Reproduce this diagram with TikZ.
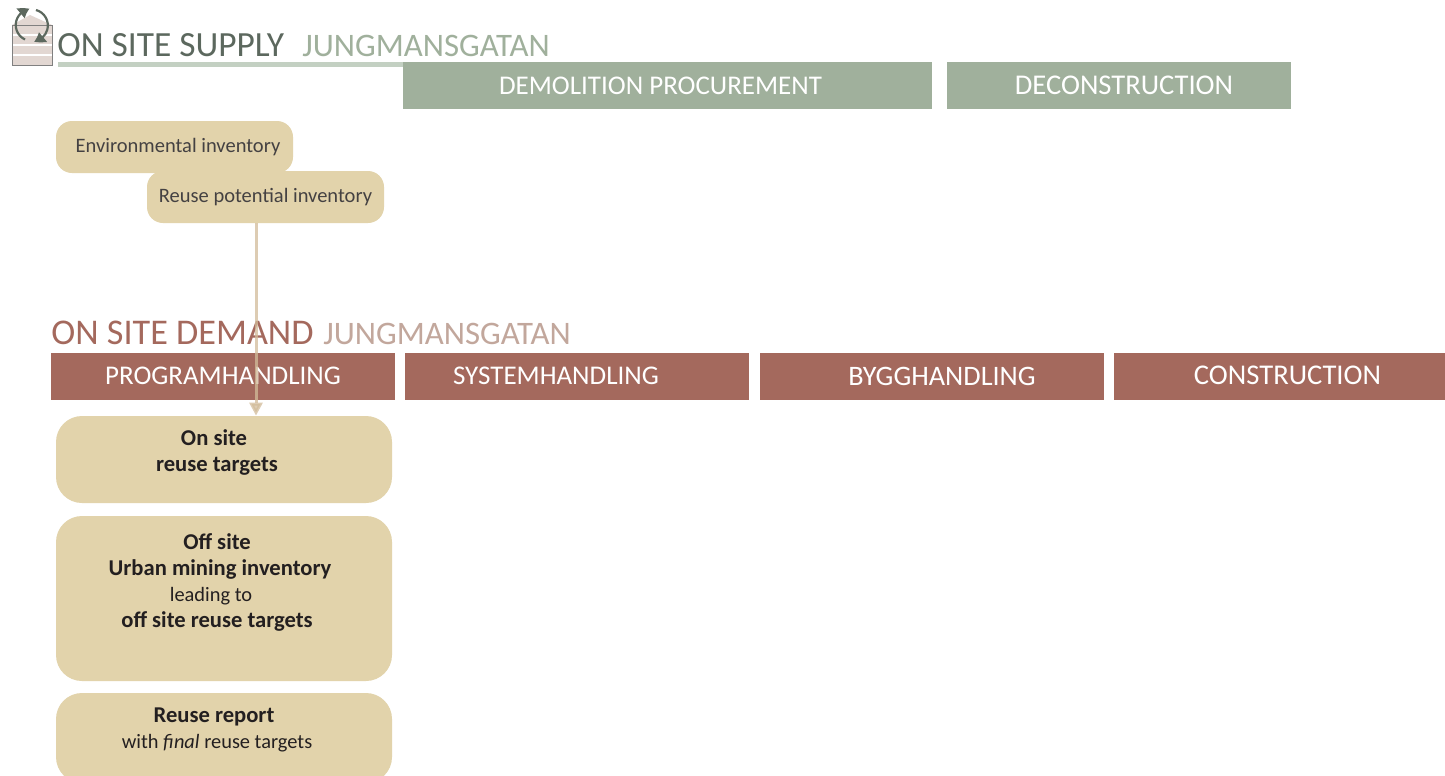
\documentclass[tikz,border=0pt]{standalone}
\usepackage{fontspec}
\setmainfont{Carlito}
\usetikzlibrary{arrows.meta,bending}
\definecolor{supplygreen}{HTML}{A0B09C}
\definecolor{supplyline}{HTML}{C3D0C2}
\definecolor{supplydark}{HTML}{5C685E}
\definecolor{demandred}{HTML}{A4695D}
\definecolor{demandlight}{HTML}{C2A79C}
\definecolor{boxtan}{HTML}{E2D3AB}
\definecolor{arrowtan}{HTML}{D2BC9A}
\definecolor{iconpink}{HTML}{E2D7D2}
\definecolor{boxtext}{HTML}{231F20}
\newcommand{\plainline}[1]{{\fontsize{10.2}{13}\selectfont #1}}
\newcommand{\barfont}[1]{\fontsize{#1}{16}\selectfont}
\tikzset{
  bar/.style={fill=#1,text=white,minimum height=23.5pt,inner sep=0pt,font=\barfont{13.5}},
  tanbox/.style={fill=boxtan,text=boxtext,rounded corners=13pt,inner sep=0pt,align=center,minimum width=168pt,font=\fontsize{11.3}{13}\selectfont},
  smallbox/.style={fill=boxtan,text=boxtext!85,rounded corners=8pt,inner sep=0pt,minimum width=118.5pt,minimum height=26pt,font=\fontsize{10.25}{13}\selectfont},
  title/.style={anchor=base west,inner sep=0pt,font=\fontsize{#1}{20}\selectfont},
  icon arrow/.style={supplydark,line width=1.1pt,-{Triangle[length=5pt,width=6pt,bend]}},
}
\begin{document}
\begin{tikzpicture}[x=0.5pt,y=-0.5pt]
        \clip (0,0) rectangle (1445,776);
        \fill[white] (0,0) rectangle (1445,776);

        \fill[iconpink] (12,25) -- (30,15) -- (52,25) -- (52,65) -- (12,65) -- cycle;
        \foreach \liney in {35,45,55}
          \draw[white,line width=0.6pt] (12,\liney) -- (52,\liney);
        \draw[gray,line width=0.5pt] (12,25) rectangle (52,65);
        \draw[icon arrow] (25,39.5) arc[start angle=115,end angle=262,radius=16];
        \draw[icon arrow] (36,10) arc[start angle=-75,end angle=82,radius=16];

        \node[title=17.7,text=supplydark] (supplytitle) at (57,56) {ON SITE SUPPLY};
        \node[title=16.4,text=supplygreen] (supplysite) at (302,56) {JUNGMANSGATAN};
        \fill[supplyline] (58,62) rectangle (403,67);
        \node[bar=supplygreen,minimum width=264.5pt] (demolition) at (667.5,85.5) {\raisebox{-0.7pt}{DEMOLITION PROCUREMENT}\kern7pt};
        \node[bar=supplygreen,minimum width=172pt,font=\barfont{14.3}] (deconstruction) at (1119,85.5) {\kern5pt\raisebox{-0.7pt}{DECONSTRUCTION}};

        \node[smallbox] (environmental) at (174.5,147) {\kern3.5pt\raisebox{-0.4pt}{Environmental inventory}};
        \node[smallbox] (reuseinv) at (265.5,197) {Reuse potential inventory};

        \node[title=18.1,text=demandred] (demandtitle) at (51,344) {ON SITE DEMAND};
        \node[title=16.4,text=demandlight] (demandsite) at (323,344) {JUNGMANSGATAN};
        \node[bar=demandred,minimum width=172pt] (programhandling) at (223,376.5) {\raisebox{0.5pt}{PROGRAMHANDLING}};
        \node[bar=demandred,minimum width=172pt] (systemhandling) at (577,376.5) {\raisebox{0.5pt}{SYSTEMHANDLING}\kern21pt};
        \node[bar=demandred,minimum width=172pt,font=\barfont{14.1}] (bygghandling) at (932,376.5) {\kern10pt\raisebox{0.5pt}{BYGGHANDLING}};
        \node[bar=demandred,minimum width=165.5pt,font=\barfont{14.3}] (construction) at (1279.5,376.5) {\kern8pt\raisebox{1.5pt}{CONSTRUCTION}};

        \node[tanbox,minimum height=43.5pt] (onsite) at (224,459.5) {\textbf{On site}\kern10pt\\\textbf{reuse targets}\kern7pt\\[-4pt]~};
        \node[tanbox,minimum height=82.5pt] (offsite) at (224,598.5) {\textbf{Off site}\kern7pt\\\textbf{Urban mining inventory}\kern4pt\\\plainline{leading to}\kern13pt\\\textbf{off site reuse targets}\kern7pt\\[5pt]~};
        \node[tanbox,minimum height=45pt] (report) at (224,738) {\textbf{Reuse report}\kern10pt\\\plainline{with \textit{final} reuse targets}\kern7pt\\[-3pt]~};

        \coordinate (arrowx) at (256,0);
        \draw[arrowtan,opacity=0.75,line width=1.5pt,-{Triangle[length=6.5pt,width=6.5pt]}] (reuseinv.south -| arrowx) -- (onsite.north -| arrowx);
      \end{tikzpicture}
\end{document}
